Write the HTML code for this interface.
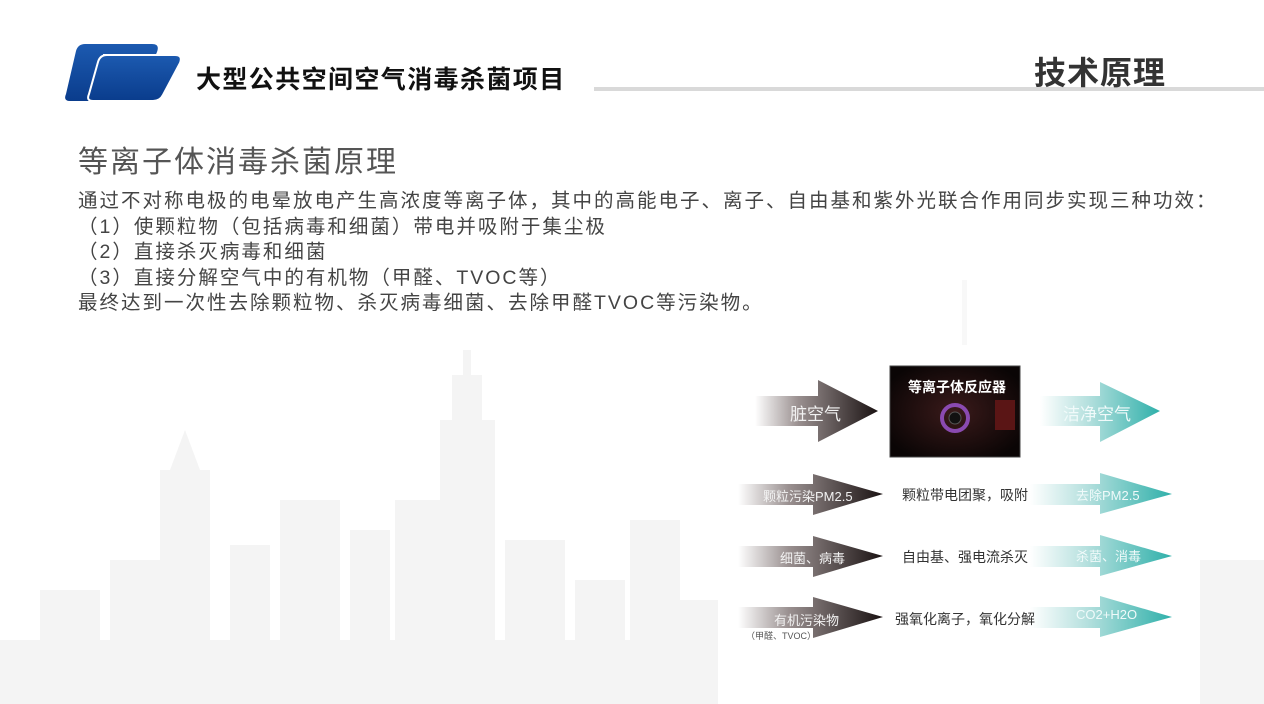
<!DOCTYPE html>
<html><head><meta charset="utf-8"><style>
body{margin:0;width:1264px;height:704px;overflow:hidden;background:#fff;position:relative;font-family:"Liberation Sans","Noto Sans CJK SC",sans-serif;}
.a{position:absolute;white-space:nowrap;}
</style></head><body>
<svg class="a" style="left:0;top:0" width="1264" height="704">
<defs>
<linearGradient id="dk" x1="0" x2="1"><stop offset="0" stop-color="#fff"/><stop offset="0.35" stop-color="#9a9090"/><stop offset="1" stop-color="#1a1212"/></linearGradient>
<linearGradient id="tl" x1="0" x2="1"><stop offset="0" stop-color="#fff"/><stop offset="0.4" stop-color="#b5e0de"/><stop offset="1" stop-color="#2fb0aa"/></linearGradient>
<linearGradient id="bl" x1="0" y1="0" x2="0" y2="1"><stop offset="0" stop-color="#1c5ab0"/><stop offset="1" stop-color="#0a3c8c"/></linearGradient>
<radialGradient id="rc" cx="0.5" cy="0.5" r="0.6"><stop offset="0" stop-color="#3a1a1a"/><stop offset="1" stop-color="#0a0505"/></radialGradient>
</defs>
<g fill="#f4f4f4">
<rect x="0" y="640" width="720" height="64"/>
<rect x="40" y="590" width="60" height="114"/>
<rect x="110" y="560" width="50" height="144"/>
<rect x="160" y="470" width="50" height="234"/>
<polygon points="170,470 185,430 200,470"/>
<rect x="230" y="545" width="40" height="159"/>
<rect x="280" y="500" width="60" height="204"/>
<rect x="350" y="530" width="40" height="174"/>
<rect x="395" y="500" width="45" height="204"/>
<rect x="440" y="420" width="55" height="284"/>
<rect x="452" y="375" width="30" height="60"/>
<rect x="463" y="350" width="8" height="30"/>
<rect x="505" y="540" width="60" height="164"/>
<rect x="575" y="580" width="50" height="124"/>
<rect x="630" y="520" width="50" height="184"/>
<rect x="680" y="600" width="40" height="104"/>
<rect x="1200" y="560" width="64" height="144"/>
<rect x="962" y="280" width="5" height="70" fill="#f8f8f8"/>
</g>
<rect x="718" y="345" width="482" height="359" fill="#fff"/>
<path d="M80,44 L152,44 Q160,44 157,52 L138,95 Q135,101 128,101 L70,101 Q63,101 66,94 L76,51 Q78,44 85,44Z" fill="url(#bl)"/>
<path d="M103,55 L175,55 Q183,55 180,63 L163,95 Q160,101 153,101 L93,101 Q86,101 89,94 L98,62 Q100,55 107,55Z" fill="url(#bl)" stroke="#fff" stroke-width="2"/>
<rect x="594" y="87" width="670" height="4" fill="#d9d9d9"/>
<polygon points="755,396 818,396 818,380 878,411 818,442 818,426 755,426" fill="url(#dk)"/>
<polygon points="1040,396 1100,396 1100,382 1160,411 1100,442 1100,426 1040,426" fill="url(#tl)"/>
<g id="r">
<polygon points="738,484 813,484 813,474 883,494 813,515 813,505 738,505" fill="url(#dk)"/>
<polygon points="1030,484 1100,484 1100,473 1172,494 1100,514 1100,505 1030,505" fill="url(#tl)"/>
</g>
<use href="#r" y="62"/>
<use href="#r" y="123"/>
<rect x="890" y="366" width="130" height="91" fill="url(#rc)" stroke="#444"/>
<circle cx="955" cy="418" r="13" fill="none" stroke="#8a4ab0" stroke-width="4"/>
<circle cx="955" cy="418" r="6" fill="#111" stroke="#555"/>
<rect x="995" y="400" width="20" height="30" fill="#5a1515"/>
</svg>
<div class="a" style="left:196px;top:60px;font-size:25px;letter-spacing:1.4px;font-weight:bold;color:#111;">大型公共空间空气消毒杀菌项目</div>
<div class="a" style="left:1034px;top:48px;font-size:32px;letter-spacing:1px;font-weight:bold;color:#333;">技术原理</div>
<div class="a" style="left:78px;top:137px;font-size:30px;letter-spacing:2px;color:#555;">等离子体消毒杀菌原理</div>
<div class="a" style="left:78px;top:189px;font-size:19.5px;letter-spacing:2px;line-height:25.5px;color:#444;">通过不对称电极的电晕放电产生高浓度等离子体，其中的高能电子、离子、自由基和紫外光联合作用同步实现三种功效：<br>（1）使颗粒物（包括病毒和细菌）带电并吸附于集尘极<br>（2）直接杀灭病毒和细菌<br>（3）直接分解空气中的有机物（甲醛、TVOC等）<br>最终达到一次性去除颗粒物、杀灭病毒细菌、去除甲醛TVOC等污染物。</div>
<div class="a" style="left:790px;top:400px;font-size:17px;color:#f2f2f2;">脏空气</div>
<div class="a" style="left:1063px;top:400px;font-size:17px;color:#f0fafa;">洁净空气</div>
<div class="a" style="left:908px;top:377px;font-size:14px;font-weight:bold;color:#fff;">等离子体反应器</div>
<div class="a" style="left:763px;top:486px;font-size:13px;color:#f2f2f2;">颗粒污染PM2.5</div>
<div class="a" style="left:902px;top:485px;font-size:14px;color:#333;">颗粒带电团聚，吸附</div>
<div class="a" style="left:1076px;top:485px;font-size:13px;color:#f0fafa;">去除PM2.5</div>
<div class="a" style="left:780px;top:548px;font-size:13px;color:#f2f2f2;">细菌、病毒</div>
<div class="a" style="left:902px;top:547px;font-size:14px;color:#333;">自由基、强电流杀灭</div>
<div class="a" style="left:1076px;top:546px;font-size:13px;color:#f0fafa;">杀菌、消毒</div>
<div class="a" style="left:774px;top:610px;font-size:13px;color:#f2f2f2;">有机污染物</div>
<div class="a" style="left:746px;top:629px;font-size:9px;color:#555;">（甲醛、TVOC）</div>
<div class="a" style="left:895px;top:609px;font-size:14px;color:#333;">强氧化离子，氧化分解</div>
<div class="a" style="left:1076px;top:607px;font-size:13px;color:#f0fafa;">CO2+H2O</div>
</body></html>
